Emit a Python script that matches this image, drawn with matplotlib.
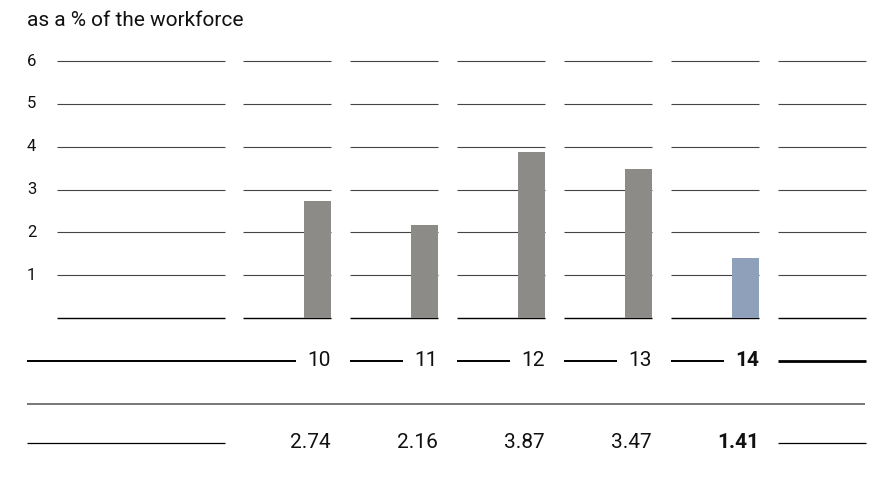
import matplotlib.pyplot as plt

plt.rcParams["font.family"] = ["Roboto", "DejaVu Sans"]

# data
years = ["10", "11", "12", "13", "14"]
values = [2.74, 2.16, 3.87, 3.47, 1.41]
value_labels = ["2.74", "2.16", "3.87", "3.47", "1.41"]
y_ticks = [1, 2, 3, 4, 5, 6]
title = "as a % of the workforce"

W, H = 876, 482
fig = plt.figure(figsize=(W / 100, H / 100), dpi=100)

# background axes in pixel units (for the table rows and title)
bg = fig.add_axes([0, 0, 1, 1])
bg.set_xlim(0, W)
bg.set_ylim(H, 0)
bg.axis("off")

# chart axes: y 0..6 between px 318 and 61
y0_px, y6_px = 318, 61
ax = fig.add_axes([0, 1 - y0_px / H, 1, (y0_px - y6_px) / H])
ax.set_xlim(0, W)
ax.set_ylim(0, 6)
ax.axis("off")

# column layout (pixels)
first_col = (57, 225)
pitch = 107
col_w = 88
cols = [(243 + i * pitch, 243 + i * pitch + col_w) for i in range(6)]
bar_w = 27

# gridlines per column
for left, right in [first_col] + cols:
    for v in range(0, 7):
        ax.hlines(v, left, right, color="black" if v == 0 else "#444444",
                  lw=1.0 if v == 0 else 0.8, clip_on=False, zorder=1)

# y tick labels
for v in y_ticks:
    ax.text(27, v, str(v), ha="left", va="center", fontsize=12, color="#111111")

# bars
colors = ["#8c8b87"] * 4 + ["#8fa0bb"]
bar_x = [cols[i][1] - bar_w / 2 for i in range(len(values))]
ax.bar(bar_x, values, width=bar_w, color=colors, zorder=2)

# title
bg.text(27, 21, title, ha="left", va="center", fontsize=15, color="#111111")

# year row
yr_y = 361
bg.hlines(yr_y, 27, cols[0][1] - 35, color="black", lw=1.4)
for i, yr in enumerate(years):
    left, right = cols[i]
    if i > 0:
        bg.hlines(yr_y, left, right - 35, color="black", lw=1.4)
    bg.text(right, yr_y, yr, ha="right", va="center", fontsize=15,
            fontweight="bold" if i == len(years) - 1 else "normal", color="#111111")
bg.hlines(yr_y, cols[5][0], cols[5][1], color="black", lw=2.0)

# separator
bg.hlines(404, 27, 865, color="#777777", lw=1.4)

# value row
val_y = 443
bg.hlines(val_y, 27, first_col[1], color="black", lw=0.9)
for i, lab in enumerate(value_labels):
    bg.text(cols[i][1], val_y, lab, ha="right", va="center", fontsize=15,
            fontweight="bold" if i == len(value_labels) - 1 else "normal", color="#111111")
bg.hlines(val_y, cols[5][0], cols[5][1], color="black", lw=0.9)

fig.savefig("out.png", dpi=100)
